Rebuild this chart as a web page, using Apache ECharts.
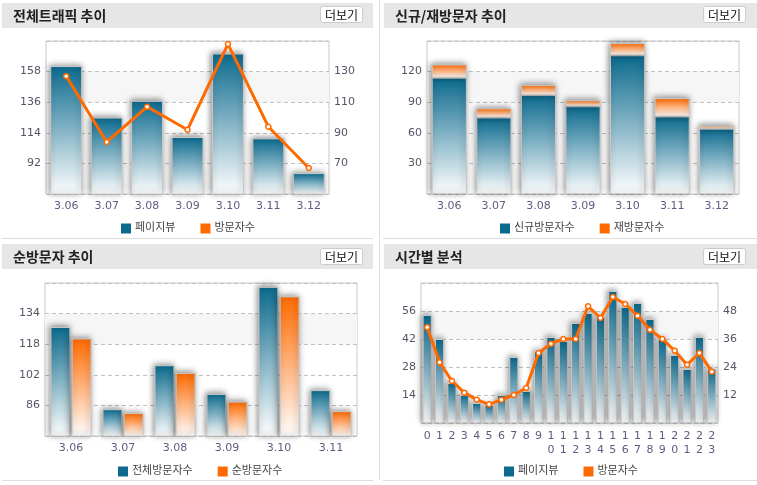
<!DOCTYPE html>
<html><head><meta charset="utf-8">
<script src="https://cdn.jsdelivr.net/npm/echarts@6/dist/echarts.min.js"></script>
<style>html,body{margin:0;padding:0;background:#fff}#c{width:757px;height:485px}</style>
</head><body><div id="c"></div>
<script>
// ---- data ----
var dates1 = ['3.06','3.07','3.08','3.09','3.10','3.11','3.12'];
var pageViews = [162,125,137,111,171,110,85];
var visitors = [127,84,107,92,148,94,67];
var newVisitors = [114,75,97,86,136,76,64];
var returnVisitors = [13,9,10,6,12,18,3];
var dates3 = ['3.06','3.07','3.08','3.09','3.10','3.11'];
var totalVisitors = [127,84,107,92,148,94];
var uniqueVisitors = [121,82,103,88,143,83];
var hours = ['0','1','2','3','4','5','6','7','8','9','10','11','12','13','14','15','16','17','18','19','20','21','22','23'];
var hourPV = [54,42,20,14,10,9,14,33,16,36,43,41,50,55,53,66,58,60,52,42,34,27,43,27];
var hourVisitors = [41,26,18,13,10,8,10,12,15,30,34,36,36,50,45,54,51,46,40,36,31,25,30,22];
var titles = ['전체트래픽 추이','신규/재방문자 추이','순방문자 추이','시간별 분석'];
var moreLabel = '더보기';

var FONT = "'DejaVu Sans','Noto Sans CJK KR',sans-serif";
var BLUE = '#0b6a8e', ORANGE = '#ff6a00';
function grad(c){return {type:'linear',x:0,y:0,x2:0,y2:1,colorStops:[{offset:0,color:c},{offset:1,color:'#ffffff'}]};}
var barStyle = function(c){return {color:grad(c),borderColor:'#c8c8c8',borderWidth:1,shadowBlur:6,shadowColor:'rgba(0,0,0,0.45)',shadowOffsetX:-1,shadowOffsetY:-1};};
var areaColors = ['rgba(255,255,255,0)','rgba(255,255,255,0)','rgba(255,255,255,0)','#f6f6f6','rgba(255,255,255,0)'];
function yAx(grid,min,max,intv,opts){
  return Object.assign({type:'value',gridIndex:grid,min:min,max:max,interval:intv,
    axisLine:{show:false},axisTick:{show:false},
    axisLabel:{showMinLabel:false,showMaxLabel:false,color:'#555566',fontSize:11,fontFamily:FONT,margin:5},
    splitLine:{show:true,lineStyle:{color:'#c0c0c0',type:[4,3]}},
    splitArea:{show:true,areaStyle:{color:areaColors}}},opts||{});
}
function xAx(grid,data,opts){
  return Object.assign({type:'category',gridIndex:grid,data:data,
    axisLine:{show:false},axisTick:{show:false},
    axisLabel:{color:'#5c5c80',fontSize:11,fontFamily:FONT,margin:7,interval:0}},opts||{});
}
var lineSeries = function(xi,yi,data){return {type:'line',name:'방문자수',xAxisIndex:xi,yAxisIndex:yi,data:data,
  symbol:'circle',symbolSize:5,lineStyle:{color:ORANGE,width:3},itemStyle:{color:'#fff',borderColor:ORANGE,borderWidth:1.5},z:5};};
function legendItem(n,c){return {name:n,icon:'rect',itemStyle:{color:c,borderWidth:0,shadowBlur:0}};}
function legend(left,top,items){return {left:left,top:top,itemWidth:10,itemHeight:10,itemGap:25,selectedMode:false,
  textStyle:{fontSize:11,color:'#444',fontFamily:FONT,padding:[0,0,0,-1]},data:items};}

var graphic = [];
var panels = [
  {bx:2,by:3,bw:371,tx:13,ty:16,btx:320.5,bty:6.5},
  {bx:384,by:3,bw:373,tx:395,ty:16,btx:703.5,bty:6.5},
  {bx:2,by:244,bw:371,tx:13,ty:257,btx:320.5,bty:248.5},
  {bx:384,by:244,bw:373,tx:395,ty:257,btx:703.5,bty:248.5}
];
panels.forEach(function(p,i){
  graphic.push({type:'rect',shape:{x:p.bx,y:p.by,width:p.bw,height:25},style:{fill:'#e6e6e6'},z:-10});
  graphic.push({type:'text',x:p.tx,y:p.ty,style:{text:titles[i],font:'bold 14px "Noto Sans CJK KR"',fill:'#222',verticalAlign:'middle'}});
  graphic.push({type:'rect',shape:{x:p.btx,y:p.bty,width:42,height:16,r:2},style:{fill:'#fff',stroke:'#cccccc',lineWidth:1}});
  graphic.push({type:'text',x:p.btx+21,y:p.bty+8.5,style:{text:moreLabel,font:'12px "Noto Sans CJK KR"',fill:'#111',align:'center',verticalAlign:'middle'}});
});
[[2,238.5,373,238.5],[383,238.5,757,238.5],[2,480.5,373,480.5],[383,480.5,757,480.5],[379.5,0,379.5,480]].forEach(function(l){
  graphic.push({type:'line',shape:{x1:l[0],y1:l[1],x2:l[2],y2:l[3]},style:{stroke:'#dddddd',lineWidth:1},z:-10});
});

var option = {
  animation:false,
  backgroundColor:'#fff',
  textStyle:{fontFamily:FONT},
  graphic:graphic,
  grid:[
    {left:46,top:41,width:283,height:153,show:true,borderColor:'#c8c8c8',backgroundColor:'transparent'},
    {left:427,top:41,width:312,height:153,show:true,borderColor:'#c8c8c8'},
    {left:45,top:283,width:312,height:153,show:true,borderColor:'#c8c8c8'},
    {left:421,top:283,width:297,height:140,show:true,borderColor:'#c8c8c8'}
  ],
  xAxis:[
    xAx(0,dates1),
    xAx(1,dates1),
    xAx(2,dates3),
    xAx(3,hours,{axisLabel:{color:'#5c5c80',fontSize:11,fontFamily:FONT,margin:6,interval:0,lineHeight:14,
      formatter:function(v){return v.split('').join('\n');}}})
  ],
  yAxis:[
    yAx(0,70,180,22),
    yAx(0,50,150,20,{position:'right',splitLine:{show:false},splitArea:{show:false}}),
    yAx(1,0,150,30),
    yAx(2,70,150,16),
    yAx(3,0,70,14),
    yAx(3,0,60,12,{position:'right',splitLine:{show:false},splitArea:{show:false}})
  ],
  legend:[
    legend(116,218,[legendItem('페이지뷰',BLUE),legendItem('방문자수',ORANGE)]),
    legend(495,218,[legendItem('신규방문자수',BLUE),legendItem('재방문자수',ORANGE)]),
    legend(113,461,[legendItem('전체방문자수',BLUE),legendItem('순방문자수',ORANGE)]),
    legend(499,461,[legendItem('페이지뷰',BLUE),legendItem('방문자수',ORANGE)])
  ],
  series:[
    {type:'bar',name:'페이지뷰',xAxisIndex:0,yAxisIndex:0,data:pageViews,barCategoryGap:'21%',itemStyle:barStyle(BLUE)},
    lineSeries(0,1,visitors),
    {type:'bar',name:'신규방문자수',xAxisIndex:1,yAxisIndex:2,stack:'v',data:newVisitors,barCategoryGap:'21%',itemStyle:barStyle(BLUE)},
    {type:'bar',name:'재방문자수',xAxisIndex:1,yAxisIndex:2,stack:'v',data:returnVisitors,barCategoryGap:'21%',itemStyle:barStyle(ORANGE)},
    {type:'bar',name:'전체방문자수',xAxisIndex:2,yAxisIndex:3,data:totalVisitors,barCategoryGap:'21%',barGap:'6%',itemStyle:barStyle(BLUE)},
    {type:'bar',name:'순방문자수',xAxisIndex:2,yAxisIndex:3,data:uniqueVisitors,barCategoryGap:'21%',barGap:'6%',itemStyle:barStyle(ORANGE)},
    {type:'bar',name:'페이지뷰',xAxisIndex:3,yAxisIndex:4,data:hourPV,barCategoryGap:'26%',itemStyle:barStyle(BLUE)},
    lineSeries(3,5,hourVisitors)
  ]
};
var chart = echarts.init(document.getElementById('c'),null,{renderer:'canvas'});
chart.setOption(option);
</script></body></html>
